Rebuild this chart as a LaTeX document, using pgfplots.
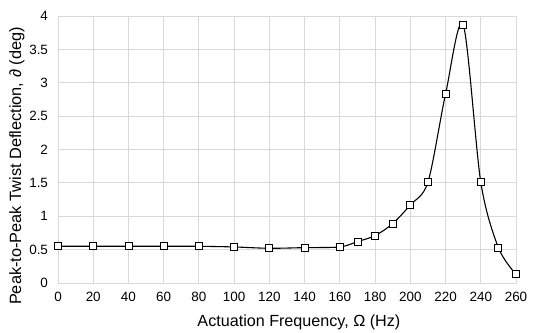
\documentclass[border=0pt]{standalone}
\usepackage{pgfplots}
\pgfplotsset{compat=1.18}
\usepackage{fontspec}
\setmainfont{Liberation Sans}
\definecolor{gridgray}{HTML}{D9D9D9}
\begin{document}
\begin{tikzpicture}
\begin{axis}[
    scale only axis,
    width=458bp, height=267bp,
    xmin=0, xmax=260, ymin=0, ymax=4,
    xtick={0,20,...,260},
    ytick={0,0.5,...,4},
    grid=major,
    major grid style={gridgray, line width=0.9pt},
    axis line style={gridgray, line width=0.9pt},
    major tick length=0pt,
    tick label style={font=\fontsize{13.5}{15}\selectfont},
    /pgf/number format/assume math mode=true,
    yticklabel style={/pgf/number format/fixed, xshift=-6.5bp},
    xticklabel style={yshift=-5.5bp},
    xlabel={Actuation Frequency, Ω (Hz)},
    ylabel={Peak-to-Peak Twist Deflection, ∂ (deg)},
    xlabel style={font=\fontsize{16.2}{18}\selectfont,
        at={(axis description cs:0.526,-0.146)}, anchor=center},
    ylabel style={font=\fontsize{16.4}{18}\selectfont,
        at={(axis description cs:-0.0895,0.438)}, anchor=center},
]
\addplot[black, line width=1.1pt, smooth, tension=0.5,
    mark=square*, mark size=3.5pt,
    mark options={fill=white, draw=black, line width=0.9pt}]
coordinates {
(0,0.55) (20,0.55) (40,0.55) (60,0.55) (80,0.55) (100,0.54)
(120,0.52) (140,0.53) (160,0.54) (170,0.62) (180,0.71) (190,0.89)
(200,1.17) (210,1.51) (220,2.83) (230,3.87) (240,1.51) (250,0.53)
(260,0.13)
};
\end{axis}
\pgfresetboundingbox
\path[use as bounding box] (-58bp,-50bp) rectangle (492bp,283bp);
\end{tikzpicture}
\end{document}
